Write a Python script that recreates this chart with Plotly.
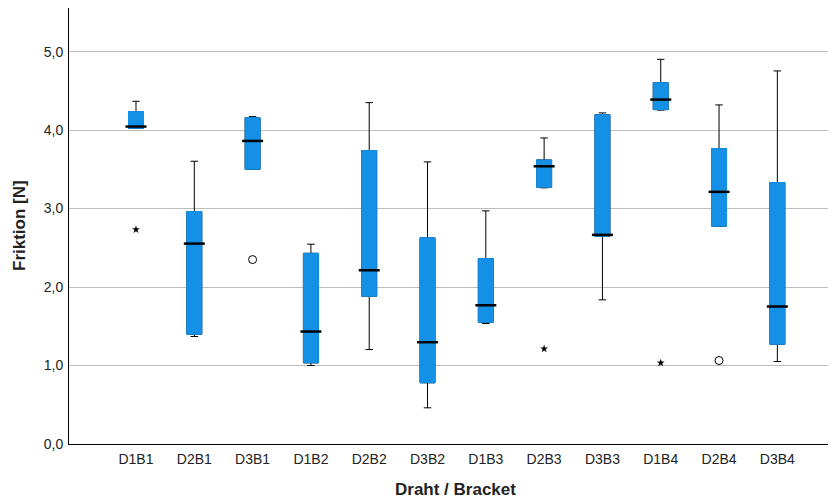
import plotly.graph_objects as go

categories = ["D1B1", "D2B1", "D3B1", "D1B2", "D2B2", "D3B2",
              "D1B3", "D2B3", "D3B3", "D1B4", "D2B4", "D3B4"]
q1_vals = [4.023, 1.399, 3.501, 1.034, 1.883, 0.780, 1.552, 3.271, 2.647, 4.261, 2.775, 1.271]
median_vals = [4.045, 2.554, 3.862, 1.433, 2.214, 1.297, 1.768, 3.539, 2.665, 4.389, 3.213, 1.752]
q3_vals = [4.236, 2.962, 4.159, 2.430, 3.739, 2.627, 2.363, 3.620, 4.197, 4.605, 3.764, 3.331]
lower_whisker = [4.020, 1.370, 3.501, 1.000, 1.204, 0.461, 1.535, 3.264, 1.837, 4.255, 2.775, 1.051]
upper_whisker = [4.367, 3.603, 4.172, 2.546, 4.350, 3.595, 2.971, 3.900, 4.219, 4.902, 4.321, 4.754]

outlier_cats = ["D3B1", "D2B4"]
outlier_vals = [2.35, 1.064]
extreme_cats = ["D1B1", "D2B3", "D1B4"]
extreme_vals = [2.733, 1.213, 1.034]

x_title = "Draht / Bracket"
y_title = "Friktion [N]"

BLUE = "#1491E6"
BOX_W = 0.257

fig = go.Figure()
# whiskers + box body
fig.add_trace(go.Box(
    x=categories, q1=q1_vals, median=median_vals, q3=q3_vals,
    lowerfence=lower_whisker, upperfence=upper_whisker,
    width=BOX_W, whiskerwidth=0.5, fillcolor=BLUE,
    line=dict(color="black", width=1), boxpoints=False,
    hoverinfo="skip", showlegend=False))
# blue outline over box
fig.add_trace(go.Box(
    x=categories, q1=q1_vals, median=q1_vals, q3=q3_vals,
    lowerfence=q1_vals, upperfence=q3_vals,
    width=BOX_W, whiskerwidth=0, fillcolor=BLUE,
    line=dict(color=BLUE, width=1), boxpoints=False,
    hoverinfo="skip", showlegend=False))
# median lines
fig.add_trace(go.Scatter(
    x=categories, y=median_vals, mode="markers",
    marker=dict(symbol="line-ew", size=15, line=dict(color="black", width=2.5)),
    showlegend=False, hoverinfo="skip"))
# outliers
fig.add_trace(go.Scatter(
    x=outlier_cats, y=outlier_vals, mode="markers",
    marker=dict(symbol="circle-open", size=8, color="black", line=dict(color="black", width=1)),
    showlegend=False))
fig.add_trace(go.Scatter(
    x=extreme_cats, y=extreme_vals, mode="markers",
    marker=dict(symbol="star", size=6, color="black"),
    showlegend=False))

# page body has an 8px margin, so the figure is sized to fill the rest
FIG_W, FIG_H = 828, 491
PLOT_L, PLOT_T, PLOT_B = 61, 0, 436

font_family = "Liberation Sans, Arial, sans-serif"
fig.update_layout(
    width=FIG_W, height=FIG_H,
    margin=dict(l=PLOT_L, r=0, t=PLOT_T, b=FIG_H - PLOT_B, autoexpand=False),
    paper_bgcolor="white", plot_bgcolor="white",
    boxmode="overlay",
    separators=",.",
    font=dict(family=font_family, size=14, color="#222222"),
    xaxis=dict(
        type="category", categoryorder="array", categoryarray=categories,
        range=[-1.149, 12.006], showgrid=False, zeroline=False, automargin=False,
        showline=True, linecolor="black", linewidth=1,
        ticks="outside", ticklen=2, tickcolor="rgba(0,0,0,0)",
        tickfont=dict(size=14, color="#222222"),
    ),
    yaxis=dict(
        range=[0, 5.556], dtick=1, tick0=0, tickformat=".1f", automargin=False,
        showgrid=True, gridcolor="#BDBDBD", gridwidth=1, zeroline=False,
        showline=True, linecolor="black", linewidth=1,
        ticks="outside", ticklen=2, tickcolor="rgba(0,0,0,0)",
        tickfont=dict(size=14, color="#222222"),
    ),
    annotations=[
        dict(text="<b>" + x_title + "</b>", xref="paper", yref="paper",
             x=(455 - 69) / 767, y=(444 - 489) / 436, xanchor="center", yanchor="middle",
             showarrow=False, font=dict(size=17, color="#222222")),
        dict(text="<b>" + y_title + "</b>", xref="paper", yref="paper",
             x=(19 - 69) / 767, y=0.5, xanchor="center", yanchor="middle", textangle=-90,
             showarrow=False, font=dict(size=17, color="#222222")),
    ],
)

fig.write_html("out.html")
